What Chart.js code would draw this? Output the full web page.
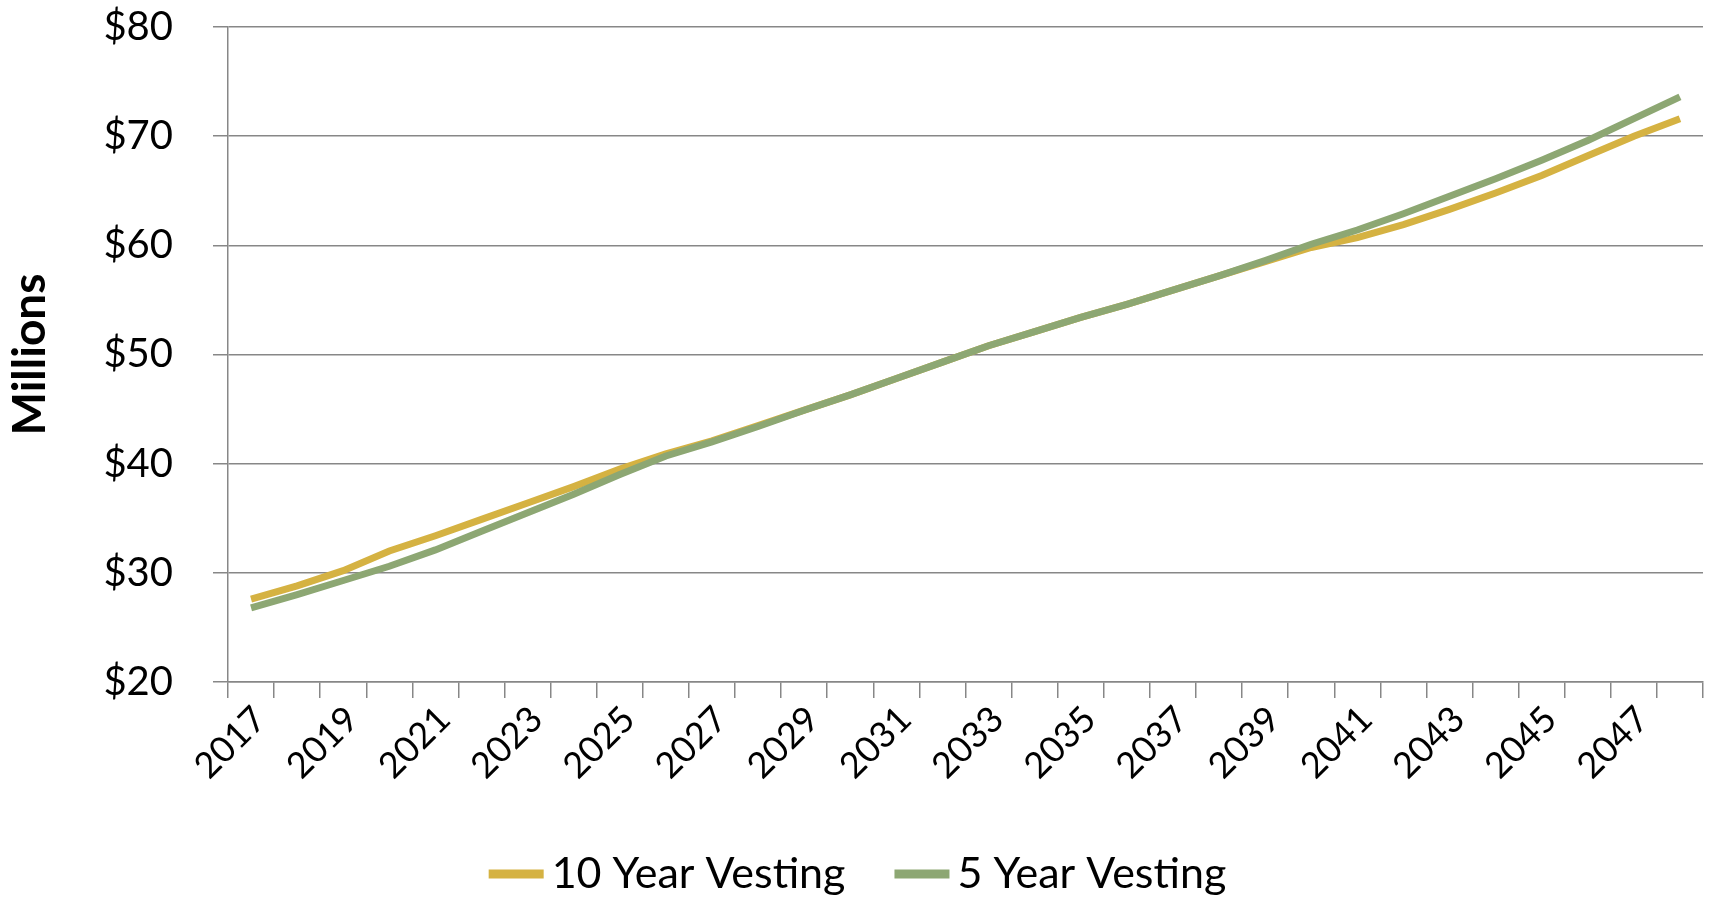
<!DOCTYPE html>
<html>
<head>
<meta charset="utf-8">
<script src="https://cdn.jsdelivr.net/npm/chart.js@4.4.1/dist/chart.umd.min.js"></script>
<style>
  html, body { margin: 0; padding: 0; background: #fff; }
  #wrap { width: 1715px; height: 899px; }
</style>
</head>
<body>
<div id="wrap"><canvas id="chart" width="1715" height="899"></canvas></div>
<script>
// Years on the category axis (only every other one is labelled)
const years = [
    2017, 2018, 2019, 2020, 2021, 2022, 2023, 2024, 2025, 2026, 2027,
    2028, 2029, 2030, 2031, 2032, 2033, 2034, 2035, 2036, 2037, 2038,
    2039, 2040, 2041, 2042, 2043, 2044, 2045, 2046, 2047, 2048
];

// Values in $ millions
const tenYearVesting = [
    27.6, 28.8, 30.2, 32.0, 33.4, 34.9, 36.4, 37.9, 39.5, 40.9, 42.1,
    43.5, 44.9, 46.3, 47.8, 49.3, 50.8, 52.1, 53.4, 54.6, 55.9, 57.2,
    58.5, 59.8, 60.7, 61.9, 63.3, 64.8, 66.4, 68.2, 70.0, 71.6
];
const fiveYearVesting = [
    26.8, 28.0, 29.3, 30.6, 32.1, 33.8, 35.5, 37.2, 39.0, 40.7, 42.0,
    43.4, 44.9, 46.3, 47.8, 49.3, 50.8, 52.1, 53.4, 54.6, 55.9, 57.2,
    58.6, 60.1, 61.4, 62.9, 64.5, 66.1, 67.8, 69.6, 71.6, 73.6
];

const yTicks = [20, 30, 40, 50, 60, 70, 80];

const colors = {
    tenYear: '#D5B242',
    fiveYear: '#8DA773',
    grid: '#878787',
    text: '#000000'
};

const fontFamily = 'Lato, "Open Sans", sans-serif';

// Excel-style legend: short thick line, small gap, label
const bottomLegend = {
    id: 'bottomLegend',
    afterDraw(chart) {
        const ctx = chart.ctx;
        const items = chart.data.datasets.map(ds => ({ text: ds.label, color: ds.borderColor }));
        const boxW = 55, boxH = 9, gap = 8, spacing = 49;
        ctx.save();
        ctx.font = '43px ' + fontFamily;
        ctx.textBaseline = 'middle';
        const widths = items.map(it => boxW + gap + ctx.measureText(it.text).width);
        const total = widths.reduce((a, b) => a + b, 0) + spacing * (items.length - 1);
        let x = (chart.width - total) / 2;
        const y = chart.height - 25;
        items.forEach((it, i) => {
            ctx.fillStyle = it.color;
            ctx.fillRect(x, y - boxH / 2, boxW, boxH);
            ctx.fillStyle = colors.text;
            ctx.fillText(it.text, x + boxW + gap, y);
            x += widths[i] + spacing;
        });
        ctx.restore();
    }
};

new Chart(document.getElementById('chart'), {
    type: 'line',
    data: {
        labels: years.map(String),
        datasets: [
            {
                label: '10 Year Vesting',
                data: tenYearVesting,
                borderColor: colors.tenYear,
                backgroundColor: colors.tenYear,
                borderWidth: 7,
                pointRadius: 0,
                tension: 0,
                order: 1
            },
            {
                label: '5 Year Vesting',
                data: fiveYearVesting,
                borderColor: colors.fiveYear,
                backgroundColor: colors.fiveYear,
                borderWidth: 7,
                pointRadius: 0,
                tension: 0,
                order: 0
            }
        ]
    },
    options: {
        responsive: false,
        animation: false,
        layout: {
            padding: { top: 27, right: 12, left: 0, bottom: 97 }
        },
        scales: {
            x: {
                offset: true,
                afterFit: (scale) => {
                    scale.height = 120;
                    scale.paddingRight = 0;
                },
                grid: {
                    offset: true,
                    drawOnChartArea: false,
                    drawTicks: true,
                    tickLength: 16,
                    color: colors.grid,
                    lineWidth: 1.5
                },
                border: { color: colors.grid, width: 1.5 },
                ticks: {
                    autoSkip: false,
                    maxRotation: 45,
                    minRotation: 45,
                    padding: 0,
                    labelOffset: 9,
                    color: colors.text,
                    font: { family: fontFamily, size: 36 },
                    callback: (v, i) => (i % 2 === 0 ? years[i] : '')
                }
            },
            y: {
                min: 20,
                max: 80,
                afterBuildTicks: (scale) => {
                    scale.ticks = yTicks.map(v => ({ value: v }));
                },
                afterFit: (scale) => {
                    scale.width = 228;
                    scale.paddingTop = 0;
                    scale.paddingBottom = 0;
                },
                grid: {
                    color: colors.grid,
                    lineWidth: 1.5,
                    tickLength: 15
                },
                border: { color: colors.grid, width: 1.5 },
                ticks: {
                    padding: 40,
                    color: colors.text,
                    font: { family: fontFamily, size: 40 },
                    callback: (v) => '$' + v
                },
                title: {
                    display: true,
                    text: 'Millions',
                    color: colors.text,
                    font: { family: fontFamily, size: 46, weight: 'bold' },
                    padding: { top: 3, bottom: 0 }
                }
            }
        },
        plugins: {
            legend: { display: false },
            tooltip: { enabled: false }
        }
    },
    plugins: [bottomLegend]
});
</script>
</body>
</html>
